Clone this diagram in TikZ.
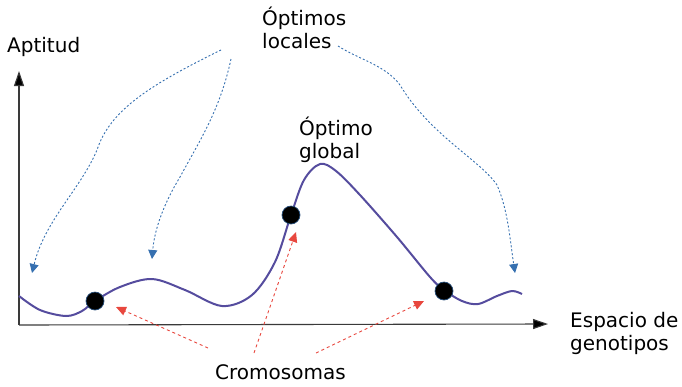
\documentclass[tikz,border=0pt]{standalone}
\usepackage{fontspec}
\setmainfont{DejaVu Sans}
\usetikzlibrary{arrows.meta}
\definecolor{curvecol}{HTML}{554C9E}
\definecolor{bluecol}{HTML}{3670B0}
\definecolor{redcol}{HTML}{E8473E}
\definecolor{axiscol}{HTML}{3A3A3A}
\begin{document}
\begin{tikzpicture}[x=1pt,y=-1pt,
  lbl/.style={inner sep=0pt,anchor=base west,font=\fontsize{20}{23}\selectfont},
  axisline/.style={draw=axiscol,line width=1.1pt,-{Triangle[length=15pt,width=10pt,fill=black]}},
  bluearrow/.style={draw=bluecol,line width=0.9pt,dash pattern=on 2pt off 2pt,-{Triangle[length=9pt,width=9pt,fill=bluecol]}},
  redarrow/.style={draw=redcol,line width=0.9pt,dash pattern=on 3pt off 3pt,-{Triangle[length=10pt,width=9pt,fill=redcol]}},
  chrom/.style={circle,fill=black,draw=bluecol!70!black,line width=0.7pt,minimum size=18pt,inner sep=0pt},
  fitcurve/.style={draw=curvecol,line width=2pt,line join=round}]
\useasboundingbox (0,0) rectangle (682,386);
% axes
\coordinate (O) at (19,325);
\coordinate (ytip) at (19,71);
\coordinate (xtip) at (548,324);
\draw[axisline] (O) -- (ytip);
\draw[axisline] (O) -- (xtip);
% curve
\draw[fitcurve] plot[smooth,tension=0.55] coordinates {
 (19,296) (40,310) (66,316) (82,311) (95,301) (120,287) (152,279) (185,290)
 (222,306) (252,295) (275,262) (291,215) (304,180) (320,164) (336,171)
 (360,195) (397,237) (430,277) (444,290) (462,301) (478,304) (497,296)
 (512,291) (522,294)};
% chromosomes
\node[chrom] (c1) at (95,301) {};
\node[chrom] (c2) at (291,215) {};
\node[chrom] (c3) at (444,291) {};
% labels
\node[lbl] (apt) at (7,52) {Aptitud};
\node[lbl] (loc1) at (262,25) {Óptimos};
\node[lbl] (loc2) at (262,48) {locales};
\node[lbl] (glob1) at (299,135) {Óptimo};
\node[lbl] (glob2) at (299,158) {global};
\node[lbl] (crom) at (215,379) {Cromosomas};
\node[lbl] (esp1) at (570,327) {Espacio de};
\node[lbl] (esp2) at (570,350) {genotipos};
% local optima targets
\coordinate (s1) at (221,50);
\coordinate (s2) at (231,59);
\coordinate (s3) at (338,46);
\coordinate (t1) at (32,273);
\coordinate (t2) at (152,259);
\coordinate (t3) at (515,273);
\draw[bluearrow] (s1) .. controls (150,85) and (110,110) .. (97,150)
  .. controls (80,190) and (45,220) .. (t1);
\draw[bluearrow] (s2) .. controls (220,110) and (200,140) .. (180,177)
  .. controls (160,210) and (154,235) .. (t2);
\draw[bluearrow] (s3) .. controls (360,60) and (385,65) .. (400,85)
  .. controls (430,135) and (480,160) .. (497,185)
  .. controls (508,210) and (510,240) .. (t3);
% chromosome pointers
\coordinate (r1) at (208,348);
\coordinate (r2) at (254,353);
\coordinate (r3) at (316,353);
\coordinate (u1) at (116,307);
\coordinate (u2) at (296,232);
\coordinate (u3) at (424,301);
\draw[redarrow] (r1) -- (u1);
\draw[redarrow] (r2) -- (u2);
\draw[redarrow] (r3) -- (u3);
\end{tikzpicture}
\end{document}
